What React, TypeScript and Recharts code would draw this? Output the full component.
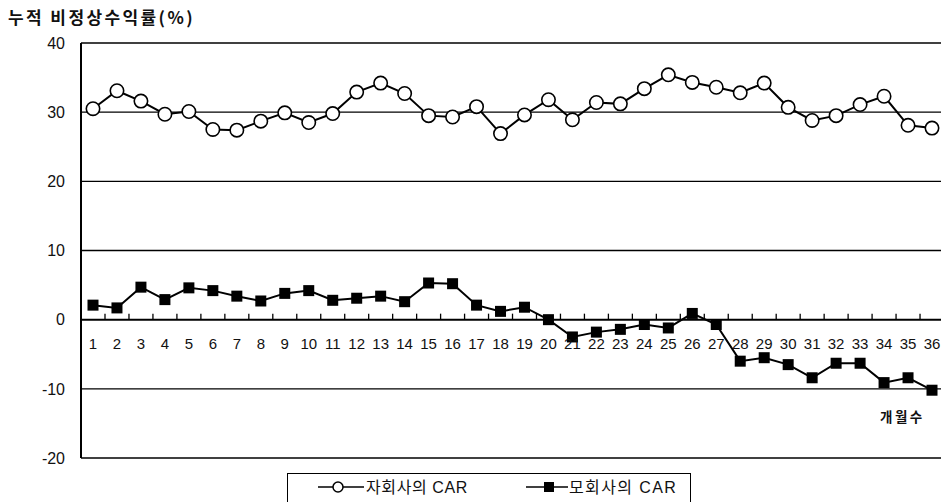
import {
  Legend,
  Line,
  LineChart,
  ReferenceLine,
  XAxis,
  YAxis,
} from "recharts";

const months = [
  "1", "2", "3", "4", "5", "6", "7", "8", "9", "10", "11", "12",
  "13", "14", "15", "16", "17", "18", "19", "20", "21", "22", "23", "24",
  "25", "26", "27", "28", "29", "30", "31", "32", "33", "34", "35", "36",
];

// 자회사의 CAR (open circles)
const subsidiaryCar = [
  30.5, 33.1, 31.6, 29.7, 30.1, 27.5, 27.4, 28.7, 29.9, 28.5, 29.8, 32.9,
  34.2, 32.7, 29.5, 29.3, 30.8, 26.9, 29.6, 31.8, 28.9, 31.4, 31.2, 33.4,
  35.4, 34.3, 33.6, 32.8, 34.2, 30.7, 28.8, 29.5, 31.1, 32.3, 28.1, 27.7,
];

// 모회사의 CAR (filled squares)
const parentCar = [
  2.1, 1.7, 4.7, 2.9, 4.6, 4.2, 3.4, 2.7, 3.8, 4.2, 2.8, 3.1,
  3.4, 2.6, 5.3, 5.2, 2.1, 1.2, 1.8, 0.0, -2.5, -1.8, -1.4, -0.7,
  -1.2, 0.9, -0.7, -6.0, -5.5, -6.5, -8.4, -6.3, -6.3, -9.1, -8.4, -10.2,
];

const yTicks = [-20, -10, 0, 10, 20, 30, 40];

const chartData = months.map((month, i) => ({
  month,
  subsidiary: subsidiaryCar[i],
  parent: parentCar[i],
}));

const WIDTH = 941;
const HEIGHT = 502;
const PLOT_TOP = 43;
const PLOT_BOTTOM = 458;
const Y_MIN = -20;
const Y_MAX = 40;
const HALF_STEP = 12;

const latin = '"Liberation Sans", Arial, "Noto Sans CJK KR", sans-serif';
const korean = '"Noto Sans CJK KR", "Liberation Sans", sans-serif';

function MonthTick({ x, payload }: any) {
  // the category axis sits on the zero line, not at the bottom of the plot
  const zeroY = PLOT_TOP + ((PLOT_BOTTOM - PLOT_TOP) * Y_MAX) / (Y_MAX - Y_MIN);
  const i = months.indexOf(String(payload.value));
  return (
    <g>
      {i < months.length - 1 && (
        <line
          x1={x + HALF_STEP}
          x2={x + HALF_STEP}
          y1={zeroY - 6}
          y2={zeroY}
          stroke="#000"
          strokeWidth={1.3}
        />
      )}
      <text
        x={x}
        y={zeroY + 29}
        textAnchor="middle"
        fontSize={15}
        fontFamily={latin}
        fill="#111"
      >
        {payload.value}
      </text>
    </g>
  );
}

function CircleDot(props: any) {
  const { cx, cy, index } = props;
  return (
    <circle
      key={`c-${index}`}
      cx={cx}
      cy={cy}
      r={6.7}
      fill="#fff"
      stroke="#000"
      strokeWidth={1.6}
    />
  );
}

function SquareDot(props: any) {
  const { cx, cy, index } = props;
  return (
    <rect
      key={`s-${index}`}
      x={cx - 5.5}
      y={cy - 5.5}
      width={11}
      height={11}
      fill="#000"
    />
  );
}

function CarLegend() {
  return (
    <div
      style={{
        width: 404,
        height: 29,
        borderTop: "1.5px solid #000",
        borderLeft: "1.5px solid #000",
        borderRight: "1.5px solid #000",
        boxSizing: "border-box",
        background: "#fff",
      }}
    >
      <svg width={401} height={28} style={{ display: "block" }}>
        <line x1={30} x2={76} y1={13} y2={13} stroke="#000" strokeWidth={1.5} />
        <circle cx={50} cy={13} r={5} fill="#fff" stroke="#000" strokeWidth={1.5} />
        <text x={78} y={19} fontSize={16} letterSpacing={0.6} fontFamily={latin} fill="#111">
          자회사의 CAR
        </text>
        <line x1={238} x2={280} y1={13} y2={13} stroke="#000" strokeWidth={1.5} />
        <rect x={256} y={8} width={10} height={10} fill="#000" />
        <text x={281} y={19} fontSize={16} letterSpacing={1.4} fontFamily={latin} fill="#111">
          모회사의 CAR
        </text>
      </svg>
    </div>
  );
}

export default function App() {
  return (
    <div
      style={{
        position: "absolute",
        left: 0,
        top: 0,
        width: WIDTH,
        height: HEIGHT,
        background: "#fff",
      }}
    >
      <div
        style={{
          position: "absolute",
          left: 8,
          top: 4,
          fontFamily: korean,
          fontSize: 17,
          fontWeight: "bold",
          letterSpacing: 2.4,
          color: "#111",
          zIndex: 2,
        }}
      >
        누적 비정상수익률(%)
      </div>
      <div
        style={{
          position: "absolute",
          left: 880,
          top: 406,
          fontFamily: korean,
          fontSize: 13.5,
          fontWeight: "bold",
          letterSpacing: 2.5,
          color: "#111",
          zIndex: 2,
        }}
      >
        개월수
      </div>
      <LineChart
        width={WIDTH}
        height={HEIGHT}
        data={chartData}
        margin={{ top: PLOT_TOP, right: 0, bottom: HEIGHT - PLOT_BOTTOM - 1, left: 0 }}
      >
        {yTicks.map((t) => (
          <ReferenceLine
            key={t}
            y={t}
            stroke="#000"
            strokeWidth={t === 0 ? 2 : 1.3}
          />
        ))}
        <XAxis
          dataKey="month"
          height={1}
          interval={0}
          axisLine={false}
          tickLine={false}
          padding={{ left: 12, right: 9 }}
          tick={<MonthTick />}
        />
        <YAxis
          width={81}
          domain={[Y_MIN, Y_MAX]}
          ticks={yTicks}
          interval={0}
          tickLine={false}
          tickSize={6}
          tickMargin={10}
          axisLine={{ stroke: "#000", strokeWidth: 2 }}
          tick={{ fontSize: 16, fontFamily: latin, fill: "#111" }}
        />
        <Legend
          layout="horizontal"
          align="center"
          verticalAlign="middle"
          wrapperStyle={{ left: 287, top: 473, width: 404, height: 29 }}
          content={<CarLegend />}
        />
        <Line
          type="linear"
          dataKey="subsidiary"
          stroke="#000"
          strokeWidth={2}
          dot={CircleDot}
          activeDot={false}
          isAnimationActive={false}
        />
        <Line
          type="linear"
          dataKey="parent"
          stroke="#000"
          strokeWidth={2}
          dot={SquareDot}
          activeDot={false}
          isAnimationActive={false}
        />
      </LineChart>
    </div>
  );
}
